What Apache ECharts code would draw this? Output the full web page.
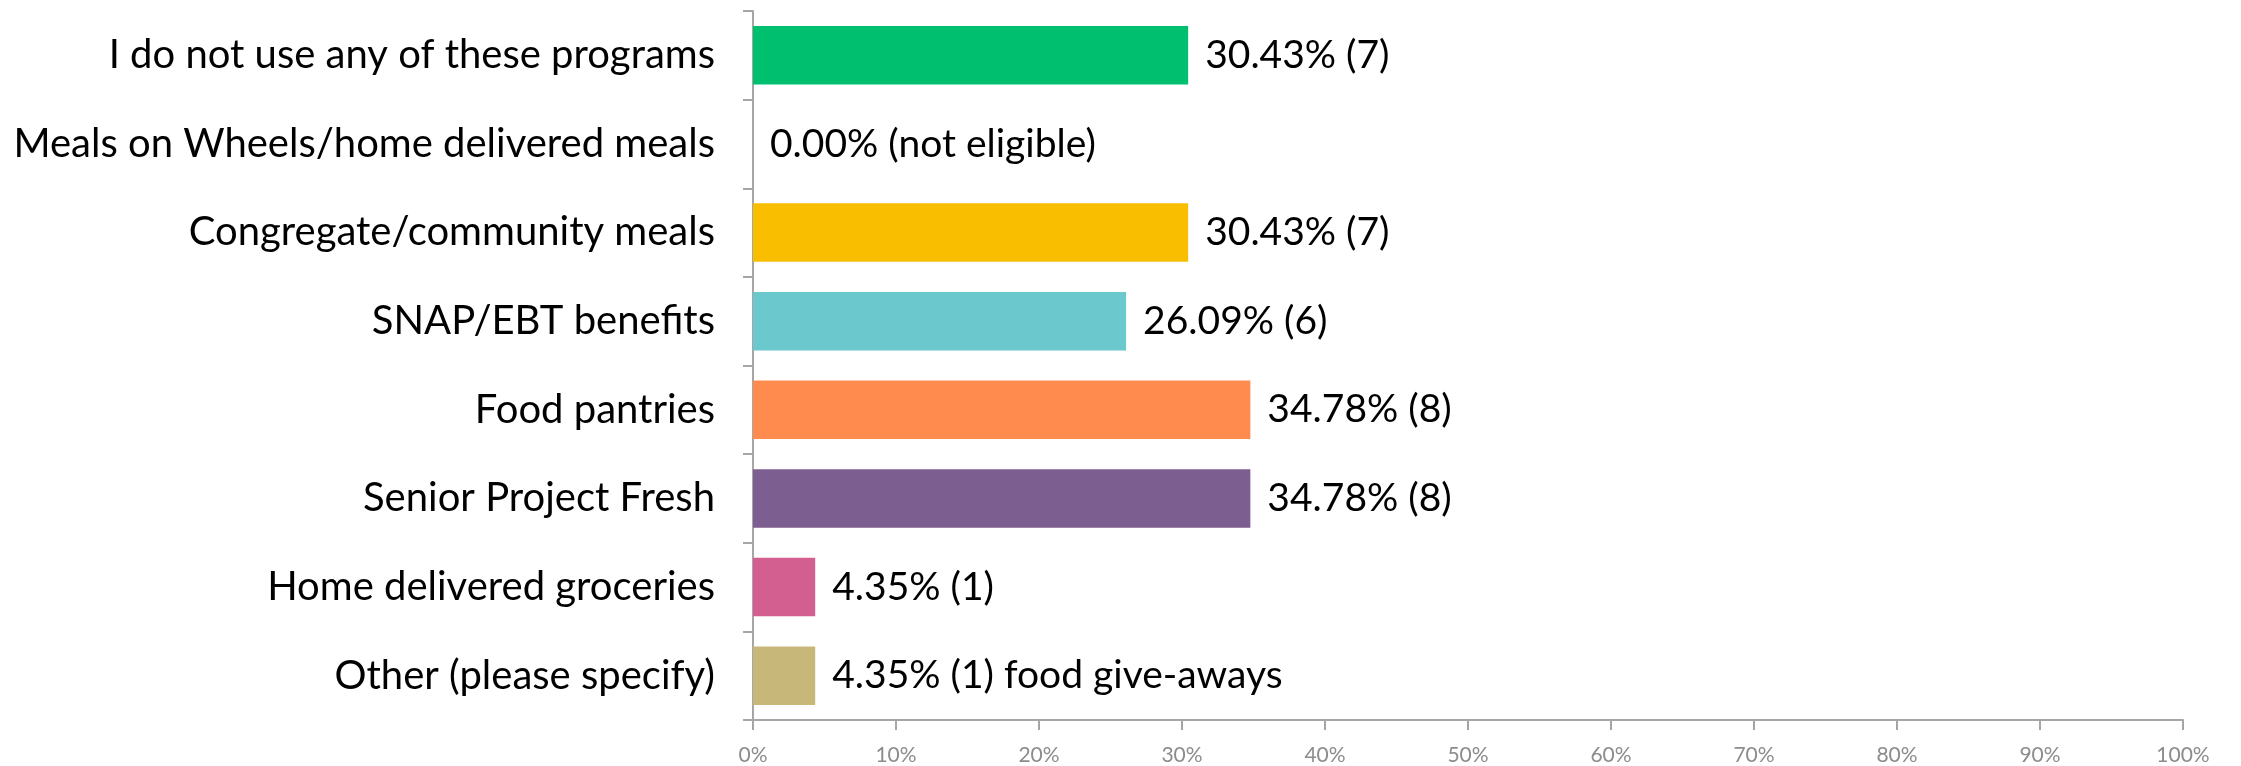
<!DOCTYPE html>
<html><head><meta charset="utf-8">
<script src="https://cdn.jsdelivr.net/npm/echarts@6/dist/echarts.min.js"></script>
<style>html,body{margin:0;padding:0;background:#fff}#c{width:2241px;height:766px}</style>
</head><body><div id="c"></div>
<script>
const categories = ["I do not use any of these programs","Meals on Wheels/home delivered meals","Congregate/community meals","SNAP/EBT benefits","Food pantries","Senior Project Fresh","Home delivered groceries","Other (please specify)"];
const percents = [30.43, 0.00, 30.43, 26.09, 34.78, 34.78, 4.35, 4.35];
const counts = ["7", "not eligible", "7", "6", "8", "8", "1", "1"];
const notes = ["", "", "", "", "", "", "", " food give-aways"];
const colors = ["#00BF6F","#4A4A4A","#F9BE00","#6BC8CD","#FF8B4F","#7D5E90","#D25F90","#C7B879"];
const xTicks = [0,10,20,30,40,50,60,70,80,90,100];

const FONT = "Lato";
const chart = echarts.init(document.getElementById('c'));
chart.setOption({
  animation:false,
  grid:{left:753,right:58,top:11,bottom:44,containLabel:false},
  xAxis:{type:'value',min:xTicks[0],max:xTicks[xTicks.length-1],interval:10,
    axisLine:{show:true,lineStyle:{color:'#a6a6a6',width:2}},
    axisTick:{show:true,length:10,lineStyle:{color:'#a6a6a6',width:2}},
    splitLine:{show:false},
    axisLabel:{formatter:v=>v+'%',color:'#8c8c8c',fontFamily:FONT,fontSize:21,margin:25}},
  yAxis:{type:'category',data:categories,inverse:true,
    axisLine:{show:true,lineStyle:{color:'#a6a6a6',width:2}},
    axisTick:{show:true,length:10,alignWithLabel:false,lineStyle:{color:'#a6a6a6',width:2}},
    axisLabel:{color:'#000',fontFamily:FONT,fontSize:40,margin:38}},
  series:[{type:'bar',barCategoryGap:'34%',
    data:percents.map((v,i)=>({value:v,itemStyle:{color:colors[i]}})),
    label:{show:true,position:'right',distance:17,color:'#000',fontFamily:FONT,fontSize:39,
      formatter:p=>percents[p.dataIndex].toFixed(2)+'% ('+counts[p.dataIndex]+')'+notes[p.dataIndex]}}]
});
</script></body></html>
